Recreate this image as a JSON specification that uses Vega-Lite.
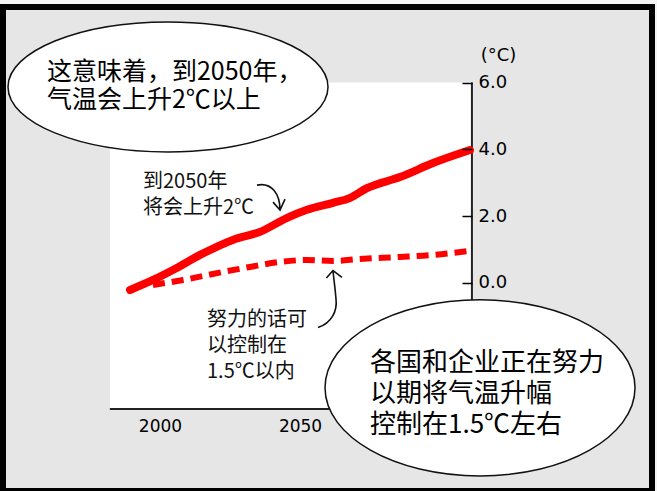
{
  "$schema": "https://vega.github.io/schema/vega-lite/v6.json",
  "width": 649,
  "height": 484,
  "autosize": "none",
  "padding": {"left": 3, "top": 7, "right": 5, "bottom": 0},
  "background": "#f4f4f4",
  "datasets": {
    "plot": [{"x": 1982.1, "x2": 2111.4, "y": -3.77, "y2": 6.0}],
    "trend": [
      {"series": "high", "x": 1989.3, "y": -0.21},
      {"series": "high", "x": 1997.5, "y": 0.09},
      {"series": "high", "x": 2004.6, "y": 0.39},
      {"series": "high", "x": 2014.3, "y": 0.84},
      {"series": "high", "x": 2026.0, "y": 1.29},
      {"series": "high", "x": 2035.7, "y": 1.53},
      {"series": "high", "x": 2045.4, "y": 1.95},
      {"series": "high", "x": 2052.5, "y": 2.19},
      {"series": "high", "x": 2061.8, "y": 2.40},
      {"series": "high", "x": 2067.9, "y": 2.55},
      {"series": "high", "x": 2073.9, "y": 2.84},
      {"series": "high", "x": 2085.7, "y": 3.17},
      {"series": "high", "x": 2097.5, "y": 3.59},
      {"series": "high", "x": 2110.7, "y": 3.98},
      {"series": "low", "x": 1997.5, "y": -0.06},
      {"series": "low", "x": 2008.2, "y": 0.09},
      {"series": "low", "x": 2022.5, "y": 0.33},
      {"series": "low", "x": 2032.1, "y": 0.48},
      {"series": "low", "x": 2042.9, "y": 0.63},
      {"series": "low", "x": 2052.5, "y": 0.69},
      {"series": "low", "x": 2061.8, "y": 0.66},
      {"series": "low", "x": 2071.4, "y": 0.72},
      {"series": "low", "x": 2085.7, "y": 0.78},
      {"series": "low", "x": 2097.5, "y": 0.84},
      {"series": "low", "x": 2110.7, "y": 0.96}
    ],
    "notes": [
      {"kind": "bubble1", "x": 2002.86, "y": 5.87, "t": ""},
      {"kind": "bubble2", "x": 2114.29, "y": -3.14, "t": ""},
      {"kind": "arrow1", "x": 2039.29, "y": 2.57, "t": ""},
      {"kind": "arrow2", "x": 2060.71, "y": -0.48, "t": ""},
      {"kind": "say1", "x": 1959.64, "y": 6.32, "t": "这意味着，到2050年，\n气温会上升2℃以上"},
      {"kind": "say2", "x": 2075.0, "y": -2.40, "t": "各国和企业正在努力\n以期将气温升幅\n控制在1.5℃左右"},
      {"kind": "note1", "x": 1993.93, "y": 3.02, "t": "到2050年\n将会上升2℃"},
      {"kind": "note2", "x": 2016.79, "y": -1.11, "t": "努力的话可\n以控制在\n1.5℃以内"}
    ]
  },
  "encoding": {
    "x": {
      "field": "x",
      "type": "quantitative",
      "scale": {"domain": [1943.93, 2175.71], "nice": false, "zero": false},
      "axis": {
        "orient": "bottom",
        "offset": -82,
        "values": [2000, 2050],
        "format": "d",
        "domain": false,
        "ticks": false,
        "grid": false,
        "labelPadding": 9,
        "labelFont": "DejaVu Sans",
        "labelFontSize": 17,
        "labelColor": "#000",
        "title": null
      }
    },
    "y": {
      "field": "y",
      "type": "quantitative",
      "scale": {"domain": [-6.228, 8.263], "nice": false, "zero": false},
      "axis": {
        "orient": "right",
        "offset": -180,
        "values": [0, 2, 4, 6],
        "format": ".1f",
        "domain": false,
        "grid": false,
        "tickSize": -10,
        "tickWidth": 1.5,
        "tickColor": "#000",
        "labelPadding": 16,
        "labelFont": "DejaVu Sans",
        "labelFontSize": 18,
        "labelColor": "#000",
        "title": "(°C)",
        "titleAngle": 0,
        "titleX": 26,
        "titleY": 48,
        "titleAlign": "center",
        "titleBaseline": "middle",
        "titleFont": "DejaVu Sans",
        "titleFontSize": 18,
        "titleFontWeight": "normal",
        "titleColor": "#000",
        "zindex": 1
      }
    }
  },
  "layer": [
    {
      "data": {"name": "plot"},
      "mark": {"type": "rect", "fill": "white", "strokeWidth": 0},
      "encoding": {"x2": {"field": "x2"}, "y2": {"field": "y2"}}
    },
    {
      "data": {"name": "plot"},
      "mark": {"type": "rule", "color": "#222", "strokeWidth": 2},
      "encoding": {"x": {"field": "x2", "type": "quantitative"}, "y2": {"field": "y2"}}
    },
    {
      "data": {"name": "plot"},
      "mark": {"type": "rule", "color": "#222", "strokeWidth": 2},
      "encoding": {"x2": {"field": "x2"}}
    },
    {
      "data": {"name": "trend"},
      "transform": [{"filter": "datum.series == 'high'"}],
      "mark": {"type": "line", "color": "#ff0000", "strokeWidth": 8, "strokeCap": "round", "interpolate": "monotone"},
      "encoding": {}
    },
    {
      "data": {"name": "trend"},
      "transform": [{"filter": "datum.series == 'low'"}],
      "mark": {"type": "line", "color": "#ff0000", "strokeWidth": 6, "strokeDash": [12, 7], "interpolate": "monotone"},
      "encoding": {}
    },
    {
      "data": {"name": "notes"},
      "transform": [{"filter": "datum.kind == 'arrow1'"}],
      "mark": {
        "type": "point",
        "shape": "M -0.65 -0.6 C 0.1 -0.75 0.5 -0.15 0.5 0.65 M 0.15 0.25 L 0.5 0.65 L 0.75 0.1",
        "size": 1600,
        "filled": false,
        "stroke": "#111",
        "strokeWidth": 1.6,
        "opacity": 1
      }
    },
    {
      "data": {"name": "notes"},
      "transform": [{"filter": "datum.kind == 'arrow2'"}],
      "mark": {
        "type": "point",
        "shape": "M -0.4 0.95 C 0.05 0.8 0.25 0.4 0.2 0 C 0.17 -0.4 0.12 -0.7 0.1 -0.95 M -0.12 -0.7 L 0.1 -0.95 L 0.4 -0.72",
        "size": 3600,
        "filled": false,
        "stroke": "#111",
        "strokeWidth": 1.6,
        "opacity": 1
      }
    },
    {
      "data": {"name": "notes"},
      "transform": [{"filter": "datum.kind == 'note1'"}],
      "mark": {"type": "text", "align": "left", "baseline": "middle", "lineBreak": "\n", "lineHeight": 26, "font": "Noto Sans CJK SC", "fontSize": 20, "color": "#111"},
      "encoding": {"text": {"field": "t"}}
    },
    {
      "data": {"name": "notes"},
      "transform": [{"filter": "datum.kind == 'note2'"}],
      "mark": {"type": "text", "align": "left", "baseline": "middle", "lineBreak": "\n", "lineHeight": 26, "font": "Noto Sans CJK SC", "fontSize": 20, "color": "#111"},
      "encoding": {"text": {"field": "t"}}
    },
    {
      "data": {"name": "notes"},
      "transform": [{"filter": "datum.kind == 'bubble1'"}],
      "mark": {
        "type": "point",
        "shape": "M 1 0 C 1 0.224 0.552 0.406 0 0.406 C -0.552 0.406 -1 0.224 -1 0 C -1 -0.224 -0.552 -0.406 0 -0.406 C 0.552 -0.406 1 -0.224 1 0 Z",
        "size": 102400,
        "filled": true,
        "fill": "white",
        "stroke": "#111",
        "strokeWidth": 1.5,
        "opacity": 1
      }
    },
    {
      "data": {"name": "notes"},
      "transform": [{"filter": "datum.kind == 'bubble2'"}],
      "mark": {
        "type": "point",
        "shape": "M 1 0 C 1 0.314 0.552 0.568 0 0.568 C -0.552 0.568 -1 0.314 -1 0 C -1 -0.314 -0.552 -0.568 0 -0.568 C 0.552 -0.568 1 -0.314 1 0 Z",
        "size": 96100,
        "filled": true,
        "fill": "white",
        "stroke": "#111",
        "strokeWidth": 1.5,
        "opacity": 1
      }
    },
    {
      "data": {"name": "notes"},
      "transform": [{"filter": "datum.kind == 'say1'"}],
      "mark": {"type": "text", "align": "left", "baseline": "middle", "lineBreak": "\n", "lineHeight": 28, "font": "Noto Sans CJK SC", "fontSize": 25, "color": "#000"},
      "encoding": {"text": {"field": "t"}}
    },
    {
      "data": {"name": "notes"},
      "transform": [{"filter": "datum.kind == 'say2'"}],
      "mark": {"type": "text", "align": "left", "baseline": "middle", "lineBreak": "\n", "lineHeight": 31, "font": "Noto Sans CJK SC", "fontSize": 26, "color": "#000"},
      "encoding": {"text": {"field": "t"}}
    }
  ],
  "config": {
    "view": {"stroke": "#000", "strokeWidth": 6, "fill": "#e6e6e6"}
  }
}
